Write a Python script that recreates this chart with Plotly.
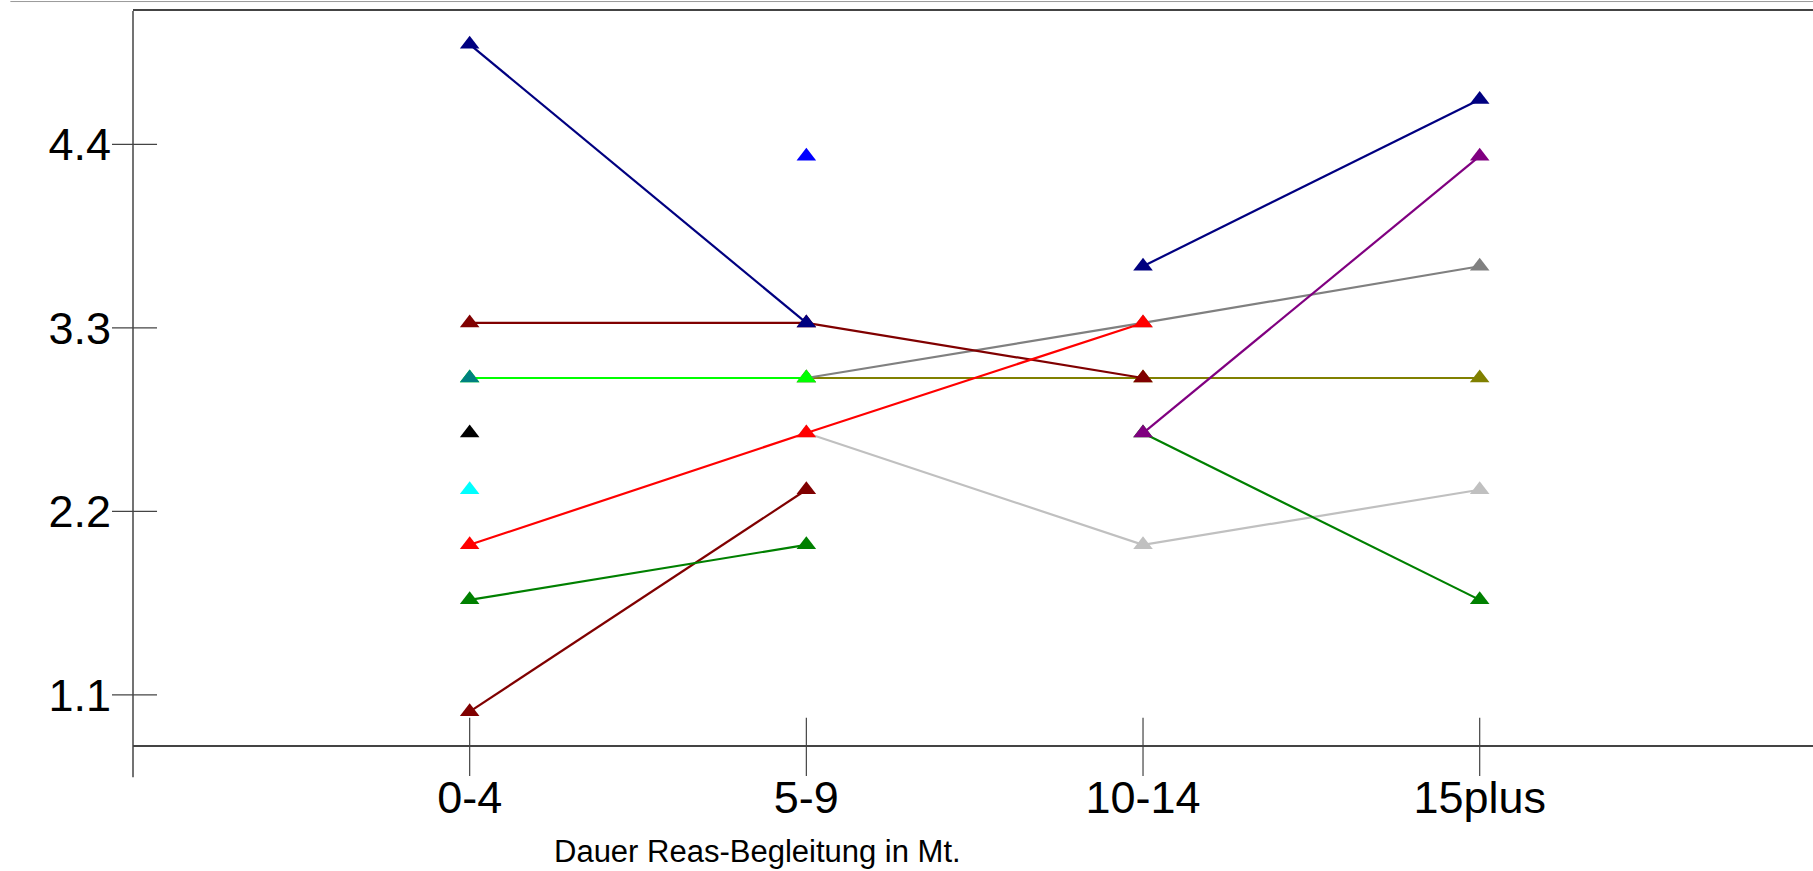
import plotly.graph_objects as go

categories = ["0-4", "5-9", "10-14", "15plus"]
y_ticks = [1.1, 2.2, 3.3, 4.4]
y_tick_labels = ["1.1", "2.2", "3.3", "4.4"]
axis_title = "Dauer Reas-Begleitung in Mt."

# series values per category (None = no value)
s_olive   = [None, 3.0, 3.0, 3.0]
s_gray    = [None, 3.0, 3.33, 3.67]
s_silver  = [None, 2.67, 2.0, 2.33]
s_green2  = [None, None, 2.67, 1.67]
s_maroon1 = [3.33, 3.33, 3.0, None]
s_lime    = [3.0, 3.0, None, None]
s_red     = [2.0, 2.67, 3.33, None]
s_navy1   = [5.0, 3.33, None, None]
s_navy2   = [None, None, 3.67, 4.67]
s_purple  = [None, None, 2.67, 4.33]
s_maroon2 = [1.0, 2.33, None, None]
s_green1  = [1.67, 2.0, None, None]
s_teal    = [3.0, None, None, None]
s_black   = [2.67, None, None, None]
s_cyan    = [2.33, None, None, None]
s_blue    = [None, 4.33, None, None]

series = [
    (s_olive, "#808000"),
    (s_gray, "#808080"),
    (s_silver, "#C0C0C0"),
    (s_green2, "#008000"),
    (s_maroon1, "#800000"),
    (s_lime, "#00FF00"),
    (s_red, "#FF0000"),
    (s_navy1, "#000080"),
    (s_navy2, "#000080"),
    (s_purple, "#800080"),
    (s_maroon2, "#800000"),
    (s_green1, "#008000"),
    (s_teal, "#008080"),
    (s_black, "#000000"),
    (s_cyan, "#00FFFF"),
    (s_blue, "#0000FF"),
]

xpos = list(range(len(categories)))
FONT = "Arial, Liberation Sans, sans-serif"
AX = "#444444"
CLEAR = "rgba(0,0,0,0)"

fig = go.Figure()
for vals, col in series:
    fig.add_trace(go.Scatter(
        x=xpos, y=vals, mode="lines+markers",
        line=dict(color=col, width=2.2),
        marker=dict(symbol="triangle-up", size=17, color=col, line=dict(width=0)),
        connectgaps=False, showlegend=False, hoverinfo="x+y",
    ))

shapes = []
# y-axis line extending below the x-axis
shapes.append(dict(type="line", xref="paper", yref="paper", x0=0, x1=0,
                   y0=-0.044, y1=1, line=dict(color=AX, width=1.5)))
# y ticks crossing the axis
for v in y_ticks:
    shapes.append(dict(type="line", xref="paper", yref="y", x0=-0.0125, x1=0.0143,
                       y0=v, y1=v, line=dict(color=AX, width=1.2)))
# x ticks crossing the axis
for k in xpos:
    shapes.append(dict(type="line", xref="x", yref="paper", x0=k, x1=k,
                       y0=-0.0422, y1=0.037, line=dict(color=AX, width=1.2)))
# light page line at the very top
shapes.append(dict(type="line", xref="paper", yref="paper", x0=-0.073, x1=1,
                   y0=1.0129, y1=1.0129, line=dict(color="#999999", width=1)))

fig.update_layout(
    width=1813, height=871,
    margin=dict(l=133, r=0, t=11, b=126),
    paper_bgcolor="white", plot_bgcolor="white",
    font=dict(family=FONT, color="black"),
    xaxis=dict(range=[-1, 3.99], tickvals=xpos, ticktext=categories,
               showgrid=False, zeroline=False, showline=True, mirror=True,
               linecolor=AX, linewidth=1.5, ticks="outside", ticklen=12,
               tickcolor=CLEAR, tickfont=dict(size=45, family=FONT)),
    yaxis=dict(range=[0.8, 5.2], tickvals=y_ticks, ticktext=y_tick_labels,
               showgrid=False, zeroline=False, showline=False,
               ticks="outside", ticklen=12, tickcolor=CLEAR,
               tickfont=dict(size=45, family=FONT)),
    shapes=shapes,
    annotations=[dict(text=axis_title, xref="paper", yref="paper",
                      x=0.372, y=-0.1445, showarrow=False,
                      xanchor="center", yanchor="middle",
                      font=dict(size=31, family=FONT, color="black"))],
)

fig.write_html(
    "out.html",
    config={"displayModeBar": False},
    post_script="document.body.style.margin='0';document.body.style.overflow='hidden';",
)
